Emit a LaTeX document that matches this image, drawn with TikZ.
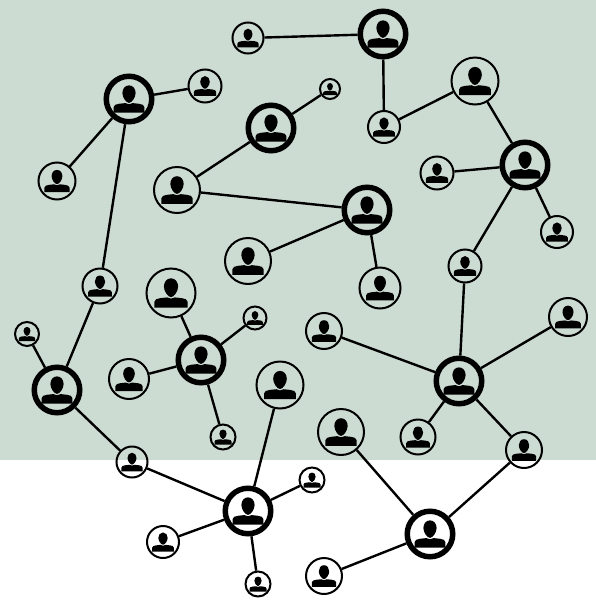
\documentclass[tikz,border=0pt]{standalone}
\usepackage{xcolor}
\usetikzlibrary{positioning,backgrounds}
\definecolor{sage}{HTML}{CDDCD3}
\tikzset{%
person/.style 2 args={circle, draw=black, line width=#2, inner sep=0pt, minimum size=#1,
	path picture={
		\begin{scope}[x=#1/2, y=-#1/2, shift={(path picture bounding box.center)}]
			\fill[black] (0,-0.6) .. controls (0.19,-0.6) and (0.29,-0.43) .. (0.29,-0.26)
				.. controls (0.29,-0.07) and (0.12,0.17) .. (0,0.17)
				.. controls (-0.12,0.17) and (-0.29,-0.07) .. (-0.29,-0.26)
				.. controls (-0.29,-0.43) and (-0.19,-0.6) .. (0,-0.6);
			\fill[black] (-0.68,0.6) -- (-0.68,0.36) .. controls (-0.68,0.26) and (-0.56,0.23) .. (-0.44,0.21)
				-- (-0.16,0.18) -- (0,0.23) -- (0.16,0.18) -- (0.44,0.21)
				.. controls (0.56,0.23) and (0.68,0.26) .. (0.68,0.36) -- (0.68,0.6) -- cycle;
		\end{scope}
	}},
leaf/.style={person={#1}{2pt}},
hub/.style={person={#1}{5.5pt}},
link/.style={draw=black, line width=2.4pt}
}
\begin{document}
\begin{tikzpicture}[x=1pt, y=-1pt]
	\useasboundingbox (0,0) rectangle (596,600);
	\fill[sage] (0,0) rectangle (596,460);
	% upper left group
	\node[hub=45.5pt] (tutor) at (129,99) {};
	\node[leaf=33pt] (tutorA) at (205,86) {};
	\node[leaf=37pt] (tutorB) at (57,181) {};
	\node[leaf=35pt] (bridge) at (100,286) {};
	\node[hub=45.5pt] (west) at (57,390) {};
	\node[leaf=24pt] (westA) at (27,334) {};
	\node[leaf=31pt] (gate) at (132,462) {};
	\node[hub=45.5pt] (south) at (248,511) {};
	\node[leaf=25pt] (southA) at (312,480) {};
	\node[leaf=47pt] (southB) at (280,385) {};
	\node[leaf=32pt] (southC) at (163,542) {};
	\node[leaf=25pt] (southD) at (258,584) {};
	% middle groups
	\node[hub=45.5pt] (mentor) at (271,128) {};
	\node[leaf=20pt] (mentorA) at (330,89) {};
	\node[leaf=46pt] (mentorB) at (177,190) {};
	\node[hub=45.5pt] (centre) at (367,210) {};
	\node[leaf=46pt] (centreA) at (248,261) {};
	\node[leaf=41pt] (centreB) at (380,288) {};
	\node[hub=45.5pt] (inner) at (201,360) {};
	\node[leaf=49pt] (innerA) at (171,293) {};
	\node[leaf=23pt] (innerB) at (255,318) {};
	\node[leaf=40pt] (innerC) at (129,379) {};
	\node[leaf=25pt] (innerD) at (223,437) {};
	% right chain
	\node[leaf=31pt] (topA) at (248,38) {};
	\node[hub=45.5pt] (top) at (383,34) {};
	\node[leaf=32pt] (topB) at (384,127) {};
	\node[leaf=47pt] (topC) at (475,81) {};
	\node[hub=45.5pt] (east) at (525,165) {};
	\node[leaf=33pt] (eastA) at (437,173) {};
	\node[leaf=32pt] (eastB) at (557,232) {};
	\node[leaf=33pt] (eastC) at (465,266) {};
	\node[hub=45.5pt] (core) at (459,381) {};
	\node[leaf=38pt] (coreA) at (568,317) {};
	\node[leaf=36pt] (coreB) at (324,331) {};
	\node[leaf=35pt] (coreC) at (418,437) {};
	\node[leaf=36pt] (coreD) at (524,450) {};
	\node[hub=45.5pt] (base) at (430,534) {};
	\node[leaf=46pt] (baseA) at (341,432) {};
	\node[leaf=36pt] (baseB) at (324,576) {};
	% links
	\path[link] (tutor) edge (tutorA);
	\path[link] (tutor) edge (tutorB);
	\path[link] (tutor) edge (bridge);
	\path[link] (bridge) edge (west);
	\path[link] (west) edge (westA);
	\path[link] (west) edge (gate);
	\path[link] (gate) edge (south);
	\path[link] (south) edge (southA);
	\path[link] (south) edge (southB);
	\path[link] (south) edge (southC);
	\path[link] (south) edge (southD);
	\path[link] (mentor) edge (mentorA);
	\path[link] (mentor) edge (mentorB);
	\path[link] (mentorB) edge (centre);
	\path[link] (centre) edge (centreA);
	\path[link] (centre) edge (centreB);
	\path[link] (inner) edge (innerA);
	\path[link] (inner) edge (innerB);
	\path[link] (inner) edge (innerC);
	\path[link] (inner) edge (innerD);
	\path[link] (topA) edge (top);
	\path[link] (top) edge (topB);
	\path[link] (topB) edge (topC);
	\path[link] (topC) edge (east);
	\path[link] (east) edge (eastA);
	\path[link] (east) edge (eastB);
	\path[link] (east) edge (eastC);
	\path[link] (eastC) edge (core);
	\path[link] (core) edge (coreA);
	\path[link] (core) edge (coreB);
	\path[link] (core) edge (coreC);
	\path[link] (core) edge (coreD);
	\path[link] (coreD) edge (base);
	\path[link] (base) edge (baseA);
	\path[link] (base) edge (baseB);
\end{tikzpicture}
\end{document}
